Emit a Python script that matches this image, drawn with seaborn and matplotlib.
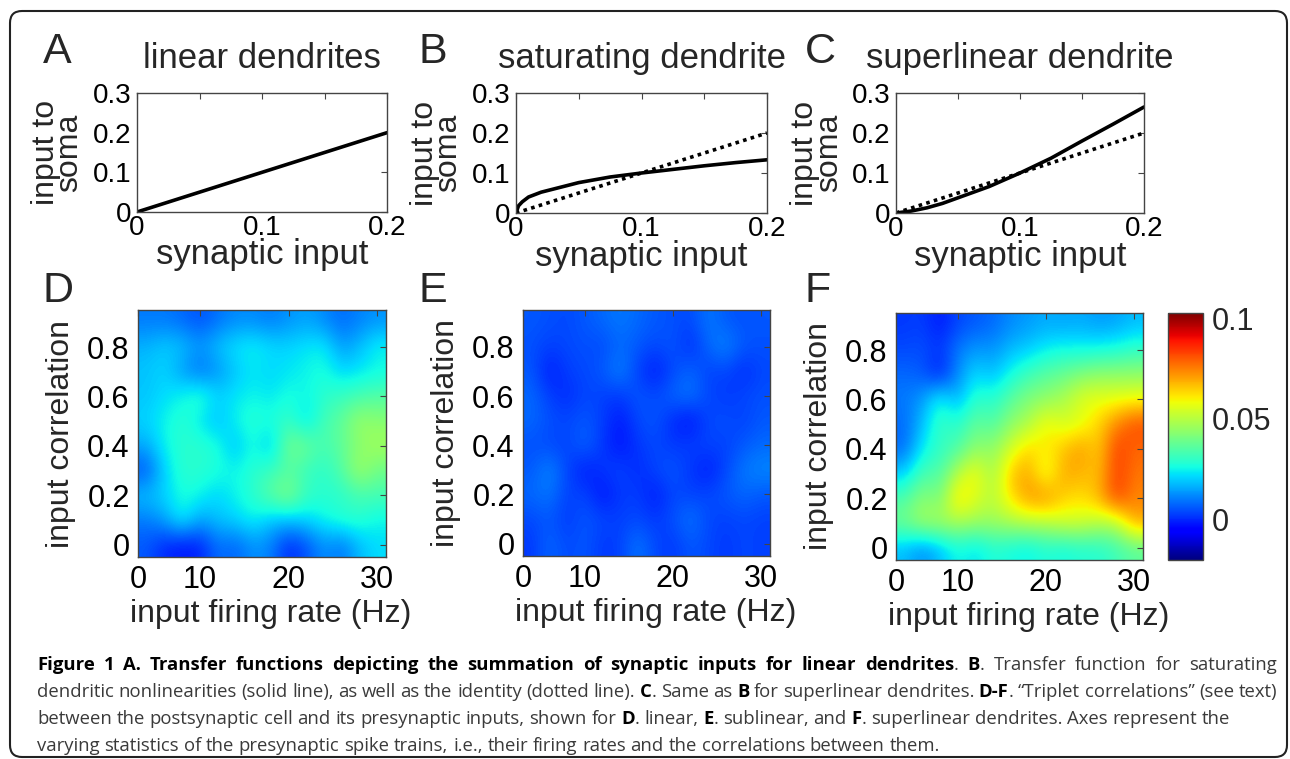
import matplotlib
matplotlib.use("Agg")
import matplotlib.pyplot as plt
import seaborn as sns
import numpy as np
import pandas as pd
from matplotlib.patches import FancyBboxPatch

syn_lin = [0.0, 0.2]
soma_lin = [0.0, 0.2]

syn_sat = [0.0, 0.002, 0.005, 0.01, 0.02, 0.03, 0.05, 0.075, 0.1, 0.125, 0.15, 0.175, 0.2]
soma_sat = [0.0, 0.018, 0.028, 0.040, 0.052, 0.060, 0.076, 0.090, 0.100, 0.109, 0.118, 0.126, 0.133]

syn_sup = [0.0, 0.0125, 0.025, 0.0375, 0.05, 0.075, 0.1, 0.125, 0.15, 0.175, 0.2]
soma_sup = [0.0, 0.005, 0.013, 0.024, 0.038, 0.066, 0.100, 0.137, 0.180, 0.222, 0.265]

# ---- triplet correlation maps (rows: correlation 0.9 -> 0, cols: rate 4 -> 30 Hz) ----
rates = [4, 6, 8, 10, 12, 14, 16, 18, 20, 22, 24, 26, 28, 30]
corrs = [0.9, 0.8, 0.7, 0.6, 0.5, 0.4, 0.3, 0.2, 0.1, 0.0]

trip_linear = [
    [0.010, 0.010, 0.008, 0.005, 0.009, 0.012, 0.012, 0.010, 0.013, 0.015, 0.012, 0.008, 0.011, 0.013],
    [0.017, 0.020, 0.019, 0.014, 0.019, 0.023, 0.025, 0.022, 0.021, 0.023, 0.024, 0.014, 0.018, 0.025],
    [0.019, 0.021, 0.014, 0.008, 0.013, 0.019, 0.023, 0.021, 0.023, 0.025, 0.027, 0.021, 0.023, 0.025],
    [0.019, 0.022, 0.025, 0.030, 0.021, 0.023, 0.025, 0.023, 0.027, 0.025, 0.029, 0.031, 0.033, 0.035],
    [0.021, 0.025, 0.029, 0.023, 0.018, 0.025, 0.029, 0.027, 0.031, 0.021, 0.033, 0.037, 0.046, 0.043],
    [0.016, 0.025, 0.029, 0.029, 0.027, 0.018, 0.027, 0.018, 0.041, 0.039, 0.033, 0.037, 0.043, 0.047],
    [0.005, 0.021, 0.029, 0.029, 0.027, 0.025, 0.029, 0.031, 0.035, 0.031, 0.029, 0.035, 0.047, 0.039],
    [0.019, 0.021, 0.027, 0.025, 0.021, 0.025, 0.029, 0.037, 0.043, 0.031, 0.029, 0.029, 0.033, 0.033],
    [0.010, 0.015, 0.025, 0.015, 0.019, 0.021, 0.025, 0.019, 0.019, 0.021, 0.025, 0.029, 0.029, 0.025],
    [0.006, 0.000, -0.002, -0.001, 0.009, 0.007, 0.013, 0.011, 0.000, 0.005, 0.013, 0.009, 0.018, 0.022],
]

trip_sublinear = [
    [0.006, 0.005, 0.004, 0.006, 0.008, 0.010, 0.008, 0.006, 0.005, 0.004, 0.010, 0.006, 0.005, 0.006],
    [0.005, 0.003, 0.004, 0.005, 0.004, 0.008, 0.006, 0.004, 0.006, 0.000, 0.008, 0.012, 0.006, 0.005],
    [0.006, -0.002, 0.003, 0.004, 0.006, 0.012, 0.003, -0.002, 0.004, 0.008, 0.003, 0.004, 0.000, 0.004],
    [0.008, 0.003, 0.000, 0.004, 0.003, 0.002, 0.006, 0.004, 0.008, 0.010, 0.004, 0.002, 0.004, 0.005],
    [0.008, 0.005, 0.004, 0.006, 0.003, -0.002, 0.004, 0.006, 0.000, -0.003, 0.004, 0.005, 0.003, 0.006],
    [0.005, 0.004, 0.003, 0.008, 0.002, -0.003, 0.002, 0.004, 0.002, 0.003, 0.004, 0.003, 0.006, 0.008],
    [0.006, 0.012, 0.004, -0.002, 0.002, 0.004, 0.000, 0.004, 0.006, 0.002, -0.002, 0.004, 0.010, 0.012],
    [0.008, 0.010, 0.003, 0.004, -0.003, 0.002, 0.003, -0.002, 0.004, 0.003, 0.004, 0.006, 0.008, 0.006],
    [0.004, 0.006, 0.002, 0.006, 0.004, 0.003, 0.004, 0.002, 0.005, 0.010, 0.004, 0.003, 0.004, 0.003],
    [0.002, 0.008, 0.004, 0.006, 0.002, 0.003, 0.010, 0.004, 0.002, 0.006, 0.004, 0.002, 0.004, 0.003],
]

trip_superlinear = [
    [0.002, 0.003, -0.002, 0.004, 0.006, 0.008, 0.012, 0.014, 0.016, 0.015, 0.016, 0.014, 0.015, 0.018],
    [0.004, 0.005, 0.002, 0.010, 0.014, 0.013, 0.018, 0.020, 0.024, 0.026, 0.025, 0.026, 0.027, 0.030],
    [0.008, 0.006, -0.002, 0.012, 0.022, 0.018, 0.026, 0.032, 0.036, 0.038, 0.042, 0.044, 0.044, 0.044],
    [0.010, 0.014, 0.026, 0.016, 0.030, 0.028, 0.036, 0.042, 0.044, 0.048, 0.056, 0.057, 0.057, 0.058],
    [0.008, 0.018, 0.032, 0.028, 0.038, 0.034, 0.044, 0.048, 0.060, 0.054, 0.056, 0.064, 0.074, 0.082],
    [0.008, 0.024, 0.030, 0.034, 0.044, 0.044, 0.054, 0.064, 0.060, 0.066, 0.072, 0.064, 0.084, 0.078],
    [0.020, 0.034, 0.034, 0.050, 0.060, 0.046, 0.066, 0.070, 0.054, 0.070, 0.068, 0.066, 0.084, 0.076],
    [0.034, 0.044, 0.040, 0.064, 0.056, 0.050, 0.062, 0.072, 0.074, 0.064, 0.062, 0.068, 0.084, 0.074],
    [0.040, 0.048, 0.048, 0.048, 0.046, 0.046, 0.048, 0.050, 0.050, 0.054, 0.054, 0.050, 0.050, 0.070],
    [0.018, 0.012, 0.018, 0.026, 0.022, 0.028, 0.026, 0.024, 0.028, 0.026, 0.028, 0.028, 0.032, 0.036],
]

rate_ticks = [3, 10, 20, 30]
rate_ticklabels = ["0", "10", "20", "30"]
corr_ticks = [0, 0.2, 0.4, 0.6, 0.8]
corr_ticklabels = ["0", "0.2", "0.4", "0.6", "0.8"]
cbar_ticks = [0, 0.05, 0.1]
cbar_ticklabels = ["0", "0.05", "0.1"]

caption_lines = [
    "**Figure 1 A. Transfer functions depicting the summation of synaptic inputs for linear dendrites**. **B**. Transfer function for saturating",
    "dendritic nonlinearities (solid line), as well as the identity (dotted line). **C**. Same as **B** for superlinear dendrites. **D-F**. \u201cTriplet correlations\u201d (see text)",
    "between the postsynaptic cell and its presynaptic inputs, shown for **D**. linear, **E**. sublinear, and **F**. superlinear dendrites. Axes represent the",
    "varying statistics of the presynaptic spike trains, i.e., their firing rates and the correlations between them.",
]

W, H = 1290, 759

sns.set_theme(style="white")
plt.rcParams["font.family"] = ["Liberation Sans", "DejaVu Sans"]
plt.rcParams["axes.linewidth"] = 1.0
plt.rcParams["axes.edgecolor"] = "#444444"

fig = plt.figure(figsize=(W / 100, H / 100), dpi=100)
fig.patch.set_facecolor("white")


def px_axes(l, t, r, b):
    return fig.add_axes([l / W, 1 - b / H, (r - l) / W, (b - t) / H])


def style_ticks(ax, size, xpad, ypad):
    ax.tick_params(direction="in", top=True, right=True, length=4, width=0.8,
                   color="#444444", labelsize=size, labelcolor="black")
    ax.tick_params(axis="x", pad=xpad)
    ax.tick_params(axis="y", pad=ypad)


# ---- top row: transfer functions ----
transfer_panels = [
    ((137, 93, 387, 212), "linear dendrites", syn_lin, soma_lin, False),
    ((516, 93, 767, 213), "saturating dendrite", syn_sat, soma_sat, True),
    ((896, 93, 1144, 213), "superlinear dendrite", syn_sup, soma_sup, True),
]
for box, title, xs, ys, identity in transfer_panels:
    ax = px_axes(*box)
    if identity:
        sns.lineplot(x=syn_lin, y=soma_lin, ax=ax, color="black", lw=2.6,
                     linestyle=(0, (1, 1.2)))
    sns.lineplot(x=xs, y=ys, ax=ax, color="black", lw=2.6)
    ax.set_xlim(0, 0.2)
    ax.set_ylim(0, 0.3)
    ax.set_xticks([0, 0.05, 0.1, 0.15, 0.2])
    ax.set_xticklabels(["0", "", "0.1", "", "0.2"])
    ax.set_yticks([0, 0.1, 0.2, 0.3])
    ax.set_yticklabels(["0", "0.1", "0.2", "0.3"])
    style_ticks(ax, 20, 2, 4)
    ax.set_title(title, fontsize=25, pad=18)
    ax.set_xlabel("synaptic input", fontsize=25)
    ax.xaxis.label.set_va("baseline")
    ax.xaxis.set_label_coords(0.5, -0.44)
    ax.set_ylabel("input to\nsoma", fontsize=23, linespacing=0.72)
    ax.yaxis.set_label_coords(-0.21, 0.5)

# ---- bottom row: triplet correlation maps ----
heat_panels = [
    ((138, 310, 386, 557), trip_linear),
    ((523, 310, 770, 556), trip_sublinear),
    ((896, 313, 1143, 560), trip_superlinear),
]
vmin, vmax = -0.02, 0.1025
for box, grid in heat_panels:
    ax = px_axes(*box)
    df = pd.DataFrame(grid, index=corrs, columns=rates)
    im = ax.imshow(df.values, cmap="jet", vmin=vmin, vmax=vmax, origin="upper",
                   interpolation="bicubic", aspect="auto",
                   extent=(rates[0] - 1, rates[-1] + 1, corrs[-1] - 0.05, corrs[0] + 0.05))
    ax.set_xticks(rate_ticks)
    ax.set_xticklabels(rate_ticklabels)
    ax.set_yticks(corr_ticks)
    ax.set_yticklabels(corr_ticklabels)
    style_ticks(ax, 22, 6, 6)
    ax.set_xlabel("input firing rate (Hz)", fontsize=23)
    ax.xaxis.label.set_va("baseline")
    ax.xaxis.set_label_coords(0.536, -0.263)
    ax.set_ylabel("input correlation", fontsize=23)
    ax.yaxis.set_label_coords(-0.25, 0.5)
    ax.grid(False)

cax = px_axes(1168, 313, 1203, 560)
cbar = fig.colorbar(im, cax=cax, ticks=cbar_ticks)
cbar.ax.set_yticklabels(cbar_ticklabels)
cbar.ax.tick_params(direction="in", length=4, width=0.8, color="#444444",
                    labelsize=22, pad=6, left=True, right=True)
cbar.outline.set_linewidth(1.0)
cbar.outline.set_edgecolor("#444444")

# ---- panel letters ----
letters = [("A", 43, 63), ("B", 418, 63), ("C", 805, 63),
           ("D", 43, 302), ("E", 418, 302), ("F", 805, 302)]
for letter, lx, ly in letters:
    fig.text(lx / W, 1 - ly / H, letter, fontsize=31, va="baseline", ha="left")


# ---- caption ----
def parse_words(line):
    words = [[]]
    for k, seg in enumerate(line.split("**")):
        bold = k % 2 == 1
        for j, part in enumerate(seg.split(" ")):
            if j > 0:
                words.append([])
            if part:
                words[-1].append((part, bold))
    return [w for w in words if w]


cap_font = ["Open Sans", "DejaVu Sans"]
cap_size = 13.3
renderer = fig.canvas.get_renderer()


def piece_width(s, bold):
    t = fig.text(0, 0, s, fontsize=cap_size, family=cap_font,
                 weight="bold" if bold else "normal")
    w = t.get_window_extent(renderer).width
    t.remove()
    return w


space_w = piece_width("a a", False) - piece_width("aa", False)
x0, x1 = 37, 1277
baselines = [670, 697, 724, 751]
justify = [True, True, False, False]
for line, base, just in zip(caption_lines, baselines, justify):
    words = parse_words(line)
    widths = [[piece_width(s, b) for s, b in w] for w in words]
    total = sum(sum(ws) for ws in widths)
    gap = (x1 - x0 - total) / (len(words) - 1) if just else space_w
    x = x0
    for w, ws in zip(words, widths):
        for (s, b), pw in zip(w, ws):
            fig.text(x / W, 1 - base / H, s, fontsize=cap_size, family=cap_font,
                     weight="bold" if b else "normal",
                     color="black" if b else "#3a3a3a", va="baseline", ha="left")
            x += pw
        x += gap

# ---- rounded frame ----
frame = FancyBboxPatch((0.10, 0.02), 12.77, 7.46,
                       boxstyle="round,pad=0,rounding_size=0.12",
                       transform=fig.dpi_scale_trans, fill=False,
                       ec="#222222", lw=1.5)
fig.add_artist(frame)

fig.savefig("out.png", dpi=100)
plt.close(fig)
